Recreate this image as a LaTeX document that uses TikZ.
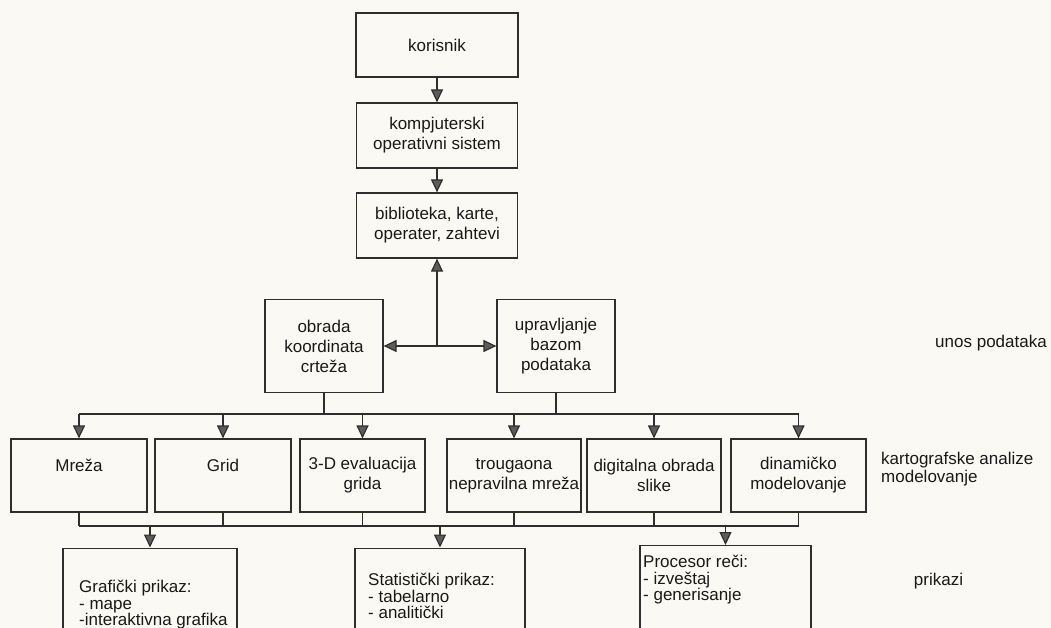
\documentclass[tikz,border=0pt]{standalone}
\usepackage{fontspec}
\setmainfont{Liberation Sans}
\usepackage{tikz}
\usetikzlibrary{arrows.meta,calc,positioning}
\definecolor{inkgray}{HTML}{2E2E2E}
\definecolor{tipgray}{HTML}{5C5C5C}
\definecolor{paper}{HTML}{FAF9F3}
\tikzset{
  box/.style={draw=inkgray, line width=1.2pt, text=black!90, align=center,
    inner xsep=1pt, inner ysep=0pt, font=\fontsize{17}{20}\selectfont},
  listtxt/.style={text=black!90, align=left, inner sep=0pt,
    font=\fontsize{17}{16.5}\selectfont},
  sidetxt/.style={text=black!90, align=left, inner sep=0pt,
    font=\fontsize{17}{18.5}\selectfont},
  link/.style={draw=inkgray, line width=1.2pt},
  arr/.style={link, -{Triangle[length=13pt,width=12pt,fill=tipgray]}},
  twoarr/.style={link, {Triangle[length=13pt,width=12pt,fill=tipgray]}-{Triangle[length=13pt,width=12pt,fill=tipgray]}}
}
\begin{document}
\begin{tikzpicture}[x=1pt,y=-1pt]
  \fill[paper] (0,0) rectangle (1051,628);
  \useasboundingbox (0,0) rectangle (1051,628);
  \clip (0,0) rectangle (1051,628);

  \node[box, minimum width=162, minimum height=64] (kor) at (437,45) {korisnik};
  \node[box, minimum width=161, minimum height=65] (komp) at (437,135.5)
    {kompjuterski\\operativni sistem};
  \node[box, minimum width=161, minimum height=65] (bibl) at (437,225.5)
    {biblioteka, karte,\\operater, zahtevi};
  \node[box, minimum width=118, minimum height=93] (obr) at (324,346)
    {obrada\\koordinata\\crteža};
  \node[box, minimum width=118, minimum height=93] (upr) at (556,346)
    {upravljanje\\bazom\\podataka};
  \coordinate (hub) at (437,346);

  \node[box, minimum width=136, minimum height=73] (mre) at (79,475.5) {Mreža\\\mbox{}};
  \node[box, minimum width=136, minimum height=73] (grid) at (223,475.5) {Grid\\\mbox{}};
  \node[box, minimum width=125, minimum height=73] (dem) at (362.5,475.5)
    {3-D evaluacija\\grida};
  \node[box, minimum width=134, minimum height=73] (tin) at (514,475.5)
    {trougaona\\nepravilna mreža};
  \node[box, minimum width=134, minimum height=73] (dig) at (654,475.5)
    {digitalna obrada\\slike};
  \node[box, minimum width=135, minimum height=73] (din) at (798.5,475.5)
    {dinamičko\\modelovanje};

  \node[box, anchor=north, minimum width=174, minimum height=100] (graf) at (150,547.5) {};
  \node[box, anchor=north, minimum width=170, minimum height=100] (stat) at (440,547.5) {};
  \node[box, anchor=north, minimum width=171, minimum height=100] (proc) at (725.5,545) {};
  \node[listtxt, anchor=north west] (graft) at (79,580)
    {Grafički prikaz:\\- mape\\-interaktivna grafika};
  \node[listtxt, anchor=north west] (statt) at (368,573)
    {Statistički prikaz:\\- tabelarno\\- analitički};
  \node[listtxt, anchor=north west] (proct) at (643,555)
    {Procesor reči:\\- izveštaj\\- generisanje};

  \node[sidetxt] (unos) at (991,343) {unos podataka};
  \node[sidetxt, anchor=west] (karto) at (881,469) {kartografske analize\\modelovanje};
  \node[sidetxt] (prik) at (938.5,581) {prikazi};

  \draw[arr] (kor) -- (komp);
  \draw[arr] (komp) -- (bibl);
  \draw[arr] (hub) -- (bibl);
  \draw[twoarr] (obr.east) -- (upr.west);

  \coordinate (busa) at (0,414);
  \coordinate (busb) at (0,526);
  \draw[link] (mre.north |- busa) -- (din.north |- busa);
  \draw[link] (obr.south) -- (obr.south |- busa);
  \draw[link] (upr.south) -- (upr.south |- busa);
  \foreach \n in {mre,grid,dem,tin,dig,din}
    \draw[arr] (\n.north |- busa) -- (\n.north);

  \draw[link] (mre.south |- busb) -- (din.south |- busb);
  \foreach \n in {mre,grid,dem,tin,dig,din}
    \draw[link] (\n.south) -- (\n.south |- busb);
  \foreach \n in {graf,stat,proc}
    \draw[arr] (\n.north |- busb) -- (\n.north);
\end{tikzpicture}
\end{document}
